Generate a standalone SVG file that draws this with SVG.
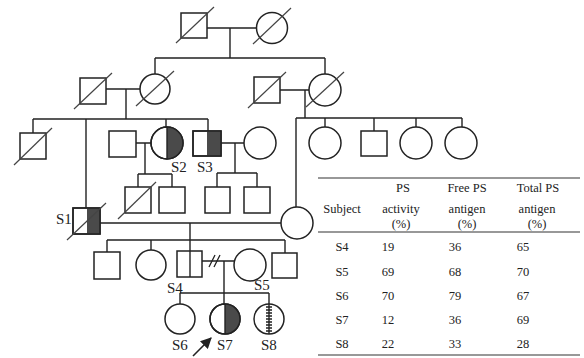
<svg xmlns="http://www.w3.org/2000/svg" width="584" height="358" viewBox="0 0 584 358">
<defs>
<style>
.s{fill:#fff;stroke:#222;stroke-width:1.5}
.l{fill:none;stroke:#222;stroke-width:1.4}
.d{fill:none;stroke:#444;stroke-width:1.2}
.f{fill:#4a4a4a;stroke:none}
.lab{font-family:"Liberation Serif","Times New Roman",serif;font-size:15px;fill:#222}
.t{font-family:"Liberation Serif","Times New Roman",serif;font-size:12.5px;fill:#222;text-anchor:middle}
.rule{stroke:#333;stroke-width:1.2}
</style>
<marker id="ah" viewBox="0 0 10 10" refX="9" refY="5" markerWidth="7" markerHeight="7" orient="auto">
<path d="M0,0 L10,5 L0,10 Z" fill="#222"/>
</marker>
</defs>
<rect width="584" height="358" fill="#fff"/>

<g id="connectors" class="l">
<!-- Gen I -->
<path d="M207,28 H257 M230,28 V58 M155,58 H325 M155,58 V74 M325,58 V74"/>
<!-- Gen II left couple -->
<path d="M106,89 H140 M126,89 V119 M33,119 H208 M33,119 V133 M86,119 V208 M166,119 V127 M208,119 V131"/>
<!-- Gen II right couple -->
<path d="M280,90 H309 M305,90 V118 M296,118 H462 M296,118 V207 M325,118 V127 M374,118 V131 M416,118 V127 M462,118 V127"/>
<!-- S2 couple -->
<path d="M136,143 H151 M145,143 V174 M138,174 H172 M138,174 V187 M172,174 V187"/>
<!-- S3 couple -->
<path d="M221,143 H244 M235,143 V173 M217,173 H257 M217,173 V187 M257,173 V187"/>
<!-- S1 couple -->
<path d="M100,223 H281 M190,223 V251 M107,240 H285 M107,240 V252 M151,240 V250 M285,240 V253"/>
<!-- S4 - S5 -->
<path d="M202,261 H234 M224,261 V304 M180,293 H269 M180,293 V304 M269,293 V304"/>
<path d="M209,267 L215,255 M214,267 L220,255" stroke-width="1.3"/>
<!-- proband arrow -->
<line x1="193" y1="356" x2="211" y2="338" marker-end="url(#ah)" stroke-width="1.6"/>
</g>

<!-- Generation I -->
<g id="gI-father"><rect class="s" x="181" y="13" width="26" height="25"/><line class="d" x1="176" y1="43" x2="214" y2="7"/></g>
<g id="gI-mother"><circle class="s" cx="272" cy="28" r="15.5"/><line class="d" x1="253" y1="44" x2="291" y2="8"/></g>

<!-- Generation II -->
<g id="gII-left-husband"><rect class="s" x="80" y="78" width="26" height="26"/><line class="d" x1="74" y1="109" x2="112" y2="73"/></g>
<g id="gII-left-wife"><circle class="s" cx="155" cy="89" r="15"/><line class="d" x1="136" y1="106" x2="174" y2="71"/></g>
<g id="gII-right-husband"><rect class="s" x="254" y="77" width="26" height="26"/><line class="d" x1="248" y1="108" x2="286" y2="72"/></g>
<g id="gII-right-wife"><circle class="s" cx="325" cy="90" r="16"/><line class="d" x1="306" y1="107" x2="344" y2="72"/></g>

<!-- Generation III -->
<g id="gIII-1"><rect class="s" x="20" y="133" width="26" height="26"/><line class="d" x1="14" y1="165" x2="52" y2="128"/></g>
<g id="gIII-S2-husband"><rect class="s" x="109" y="131" width="27" height="26"/></g>
<g id="S2"><circle class="s" cx="167" cy="143" r="16"/><path class="f" d="M167,127 A16,16 0 0 1 167,159 Z"/><circle cx="167" cy="143" r="16" fill="none" stroke="#222" stroke-width="1.5"/><line class="l" x1="167" y1="127" x2="167" y2="159"/><text class="lab" x="171" y="172">S2</text></g>
<g id="S3"><rect class="s" x="193" y="131" width="28" height="25"/><rect class="f" x="207" y="131" width="14" height="25"/><rect x="193" y="131" width="28" height="25" fill="none" stroke="#222" stroke-width="1.5"/><text class="lab" x="197" y="172">S3</text></g>
<g id="gIII-S3-wife"><circle class="s" cx="260" cy="143" r="16"/></g>
<g id="gIII-c1"><circle class="s" cx="325" cy="143" r="16"/></g>
<g id="gIII-c2"><rect class="s" x="361" y="131" width="26" height="25"/></g>
<g id="gIII-c3"><circle class="s" cx="416" cy="143" r="16"/></g>
<g id="gIII-c4"><circle class="s" cx="461" cy="143" r="16"/></g>

<!-- Generation IV (S2 / S3 children) -->
<g id="gIV-s2c1"><rect class="s" x="125" y="187" width="26" height="26"/><line class="d" x1="118" y1="219" x2="156" y2="182"/></g>
<g id="gIV-s2c2"><rect class="s" x="159" y="187" width="26" height="26"/></g>
<g id="gIV-s3c1"><rect class="s" x="205" y="187" width="25" height="26"/></g>
<g id="gIV-s3c2"><rect class="s" x="244" y="187" width="26" height="26"/></g>

<!-- S1 and wife -->
<g id="S1"><rect class="s" x="73" y="208" width="27" height="26"/><rect class="f" x="87" y="208" width="13" height="26"/><rect x="73" y="208" width="27" height="26" fill="none" stroke="#222" stroke-width="1.5"/><line class="d" x1="67" y1="240" x2="106" y2="203"/><text class="lab" x="56" y="224">S1</text></g>
<g id="S1-wife"><circle class="s" cx="297" cy="223" r="16"/></g>

<!-- S1 children -->
<g id="gV-c1"><rect class="s" x="94" y="252" width="26" height="27"/></g>
<g id="gV-c2"><circle class="s" cx="151" cy="265" r="15"/></g>
<g id="S4"><rect class="s" x="177" y="251" width="25" height="26"/><line class="l" x1="190" y1="251" x2="190" y2="277"/><text class="lab" x="167" y="293">S4</text></g>
<g id="S5"><circle class="s" cx="250" cy="265" r="16"/><text class="lab" x="254" y="290">S5</text></g>
<g id="gV-c4"><rect class="s" x="272" y="253" width="25" height="25"/></g>

<!-- S4/S5 children -->
<g id="S6"><circle class="s" cx="180" cy="319" r="15"/><text class="lab" x="172" y="350">S6</text></g>
<g id="S7"><circle class="s" cx="225" cy="319" r="15"/><path class="f" d="M225,304 A15,15 0 0 1 225,334 Z"/><circle cx="225" cy="319" r="15" fill="none" stroke="#222" stroke-width="1.5"/><line class="l" x1="225" y1="304" x2="225" y2="334"/><text class="lab" x="217" y="350">S7</text></g>
<g id="S8"><circle class="s" cx="269" cy="319" r="15"/><line class="l" x1="269" y1="304" x2="269" y2="334"/><path class="l" stroke-width="1" d="M266,307 H272 M266,310 H272 M266,313 H272 M266,316 H272 M266,319 H272 M266,322 H272 M266,325 H272 M266,328 H272 M266,331 H272"/><text class="lab" x="261" y="350">S8</text></g>

<!-- Table -->
<g id="table">
<line class="rule" x1="318" y1="178" x2="580" y2="178"/>
<line class="rule" x1="318" y1="232" x2="580" y2="232"/>
<line class="rule" x1="318" y1="355" x2="580" y2="355"/>
<text class="t" x="403" y="192">PS</text>
<text class="t" x="467" y="192">Free PS</text>
<text class="t" x="538" y="192">Total PS</text>
<text class="t" x="342" y="213">Subject</text>
<text class="t" x="401" y="213">activity</text>
<text class="t" x="467" y="213">antigen</text>
<text class="t" x="537" y="213">antigen</text>
<text class="t" x="401" y="228">(%)</text>
<text class="t" x="467" y="228">(%)</text>
<text class="t" x="537" y="228">(%)</text>
<text class="t" x="342" y="251">S4</text><text class="t" x="388" y="251">19</text><text class="t" x="455" y="251">36</text><text class="t" x="523" y="251">65</text>
<text class="t" x="342" y="276">S5</text><text class="t" x="388" y="276">69</text><text class="t" x="455" y="276">68</text><text class="t" x="523" y="276">70</text>
<text class="t" x="342" y="300">S6</text><text class="t" x="388" y="300">70</text><text class="t" x="455" y="300">79</text><text class="t" x="523" y="300">67</text>
<text class="t" x="342" y="324">S7</text><text class="t" x="388" y="324">12</text><text class="t" x="455" y="324">36</text><text class="t" x="523" y="324">69</text>
<text class="t" x="342" y="348">S8</text><text class="t" x="388" y="348">22</text><text class="t" x="455" y="348">33</text><text class="t" x="523" y="348">28</text>
</g>
</svg>
